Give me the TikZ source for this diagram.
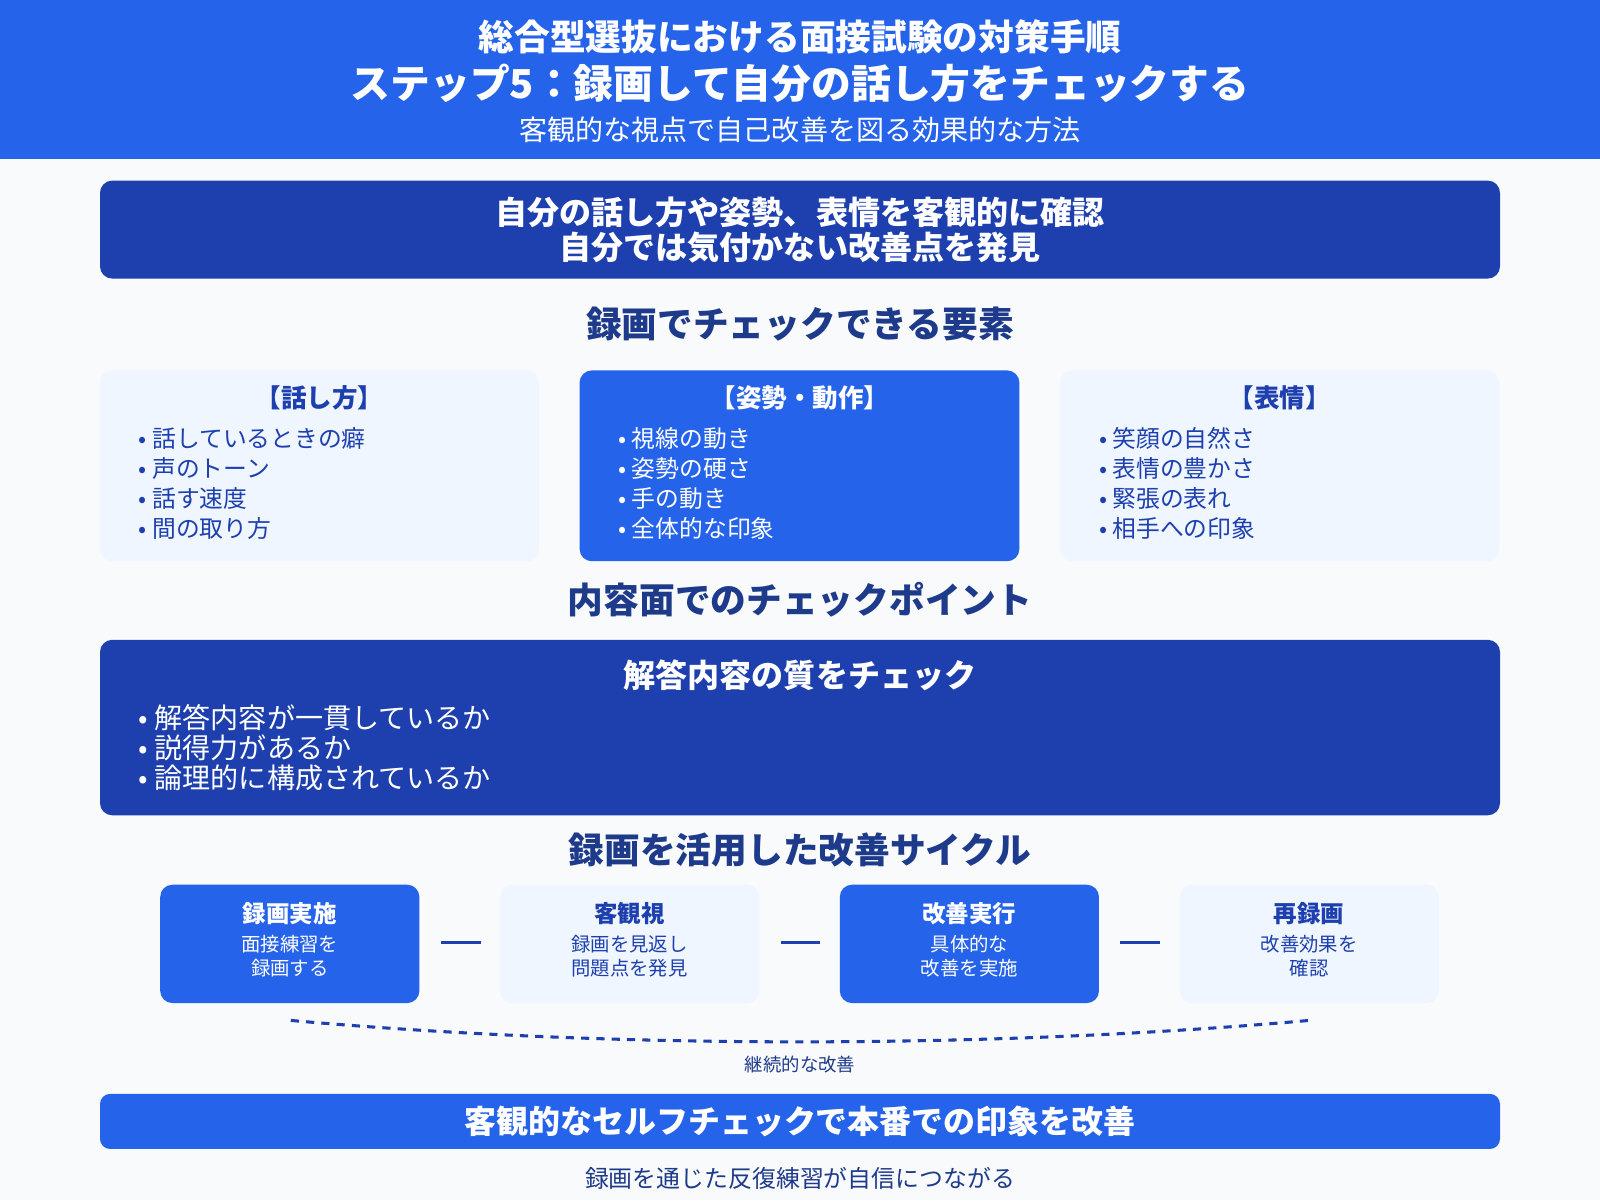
\documentclass[tikz,border=0pt]{standalone}
\usepackage{fontspec}
\setmainfont{Noto Sans CJK JP}
\begin{document}
\begin{tikzpicture}[x=1pt,y=-1pt,
  every node/.style={inner sep=0pt,align=center},
  tt/.style={font=\fontsize{#1}{#1}\selectfont},
  hd/.style={font=\bfseries\fontsize{35}{35}\selectfont,text=dkb},
  lt/.style={fill=lb,rounded corners=12pt},
  bl/.style={fill=mb,rounded corners=12pt},
  dk/.style={fill=db,rounded corners=12pt}]
\definecolor{mb}{HTML}{2563EB}\definecolor{db}{HTML}{1E40AF}
\definecolor{lb}{HTML}{EFF6FF}\definecolor{dkb}{HTML}{1E3A8A}\definecolor{bg}{HTML}{F8FAFC}
\fill[bg] (0,0) rectangle (1568,1176);
\useasboundingbox (0,0) rectangle (1568,1176);
\fill[mb] (0,0) rectangle (1568,156);
\node[text=white,font=\bfseries\fontsize{35}{35}\selectfont] (t1) at (784,36) {総合型選抜における面接試験の対策手順};
\node[text=white,font=\bfseries\fontsize{39}{39}\selectfont] (t2) at (784,82) {ステップ5：録画して自分の話し方をチェックする};
\node[text=white,tt=27.5] (t3) at (784,127) {客観的な視点で自己改善を図る効果的な方法};
\fill[dk] (98,177) rectangle (1470,273);
\node[text=white,font=\bfseries\fontsize{31.4}{31.4}\selectfont] (a1) at (784,208) {自分の話し方や姿勢、表情を客観的に確認};
\node[text=white,font=\bfseries\fontsize{31.4}{31.4}\selectfont] (a2) at (784,243) {自分では気付かない改善点を発見};
\node[hd] (h1) at (784,318) {録画でチェックできる要素};
\fill[lt] (98,363) rectangle (528,550);
\fill[bl] (568,363) rectangle (999,550);
\fill[lt] (1039,363) rectangle (1469,550);
\node[font=\bfseries\fontsize{25}{25}\selectfont,text=db] (b1) at (313,390) {【話し方】};
\node[font=\bfseries\fontsize{25}{25}\selectfont,text=white] (b2) at (784,390) {【姿勢・動作】};
\node[font=\bfseries\fontsize{25}{25}\selectfont,text=db] (b3) at (1254,390) {【表情】};
\foreach \t [count=\i] in {話しているときの癖,声のトーン,話す速度,間の取り方}
  \node[anchor=west,tt=23.3,text=db] (p\i) at (136,{430+29.3*(\i-1)}) {• \t};
\foreach \t [count=\i] in {視線の動き,姿勢の硬さ,手の動き,全体的な印象}
  \node[anchor=west,tt=23.3,text=white] (q\i) at (606,{430+29.3*(\i-1)}) {• \t};
\foreach \t [count=\i] in {笑顔の自然さ,表情の豊かさ,緊張の表れ,相手への印象}
  \node[anchor=west,tt=23.3,text=db] (r\i) at (1077,{430+29.3*(\i-1)}) {• \t};
\node[hd] (h2) at (784,588) {内容面でのチェックポイント};
\fill[dk] (98,627) rectangle (1470,799);
\node[text=white,font=\bfseries\fontsize{31.4}{31.4}\selectfont] (c0) at (784,662) {解答内容の質をチェック};
\foreach \t [count=\i] in {解答内容が一貫しているか,説得力があるか,論理的に構成されているか}
  \node[anchor=west,tt=27.5,text=white] (c\i) at (136,{703+29.5*(\i-1)}) {• \t};
\node[hd] (h3) at (784,833) {録画を活用した改善サイクル};
\foreach \x/\st/\tc/\a/\b/\c [count=\i] in {157/bl/white/録画実施/面接練習を/録画する,490/lt/db/客観視/録画を見返し/問題点を発見,823/bl/white/改善実行/具体的な/改善を実施,1156/lt/db/再録画/改善効果を/確認}{
  \fill[\st] (\x,867) rectangle ++(254,116);
  \node[font=\bfseries\fontsize{23}{23}\selectfont,text=\tc] (s\i) at (\x+127,895) {\a};
  \node[tt=19,text=\tc] (u\i) at (\x+127,925) {\b};
  \node[tt=19,text=\tc] (v\i) at (\x+127,949) {\c};
}
\foreach \x in {432,765,1098} \draw[db,line width=3pt] (\x,924) -- ++(39,0);
\coordinate (l) at (285,1000); \coordinate (r) at (1283,1000);
\draw[db,line width=3pt,dash pattern=on 8pt off 7pt] (l) .. controls (600,1028) and (968,1028) .. (r);
\node[tt=18,text=dkb] (k) at (784,1043) {継続的な改善};
\fill[mb,rounded corners=10pt] (98,1072) rectangle (1470,1126);
\node[text=white,font=\bfseries\fontsize{31.3}{31.3}\selectfont] (f) at (784,1099) {客観的なセルフチェックで本番での印象を改善};
\node[tt=23.4,text=dkb] (g) at (784,1155) {録画を通じた反復練習が自信につながる};
\end{tikzpicture}
\end{document}
